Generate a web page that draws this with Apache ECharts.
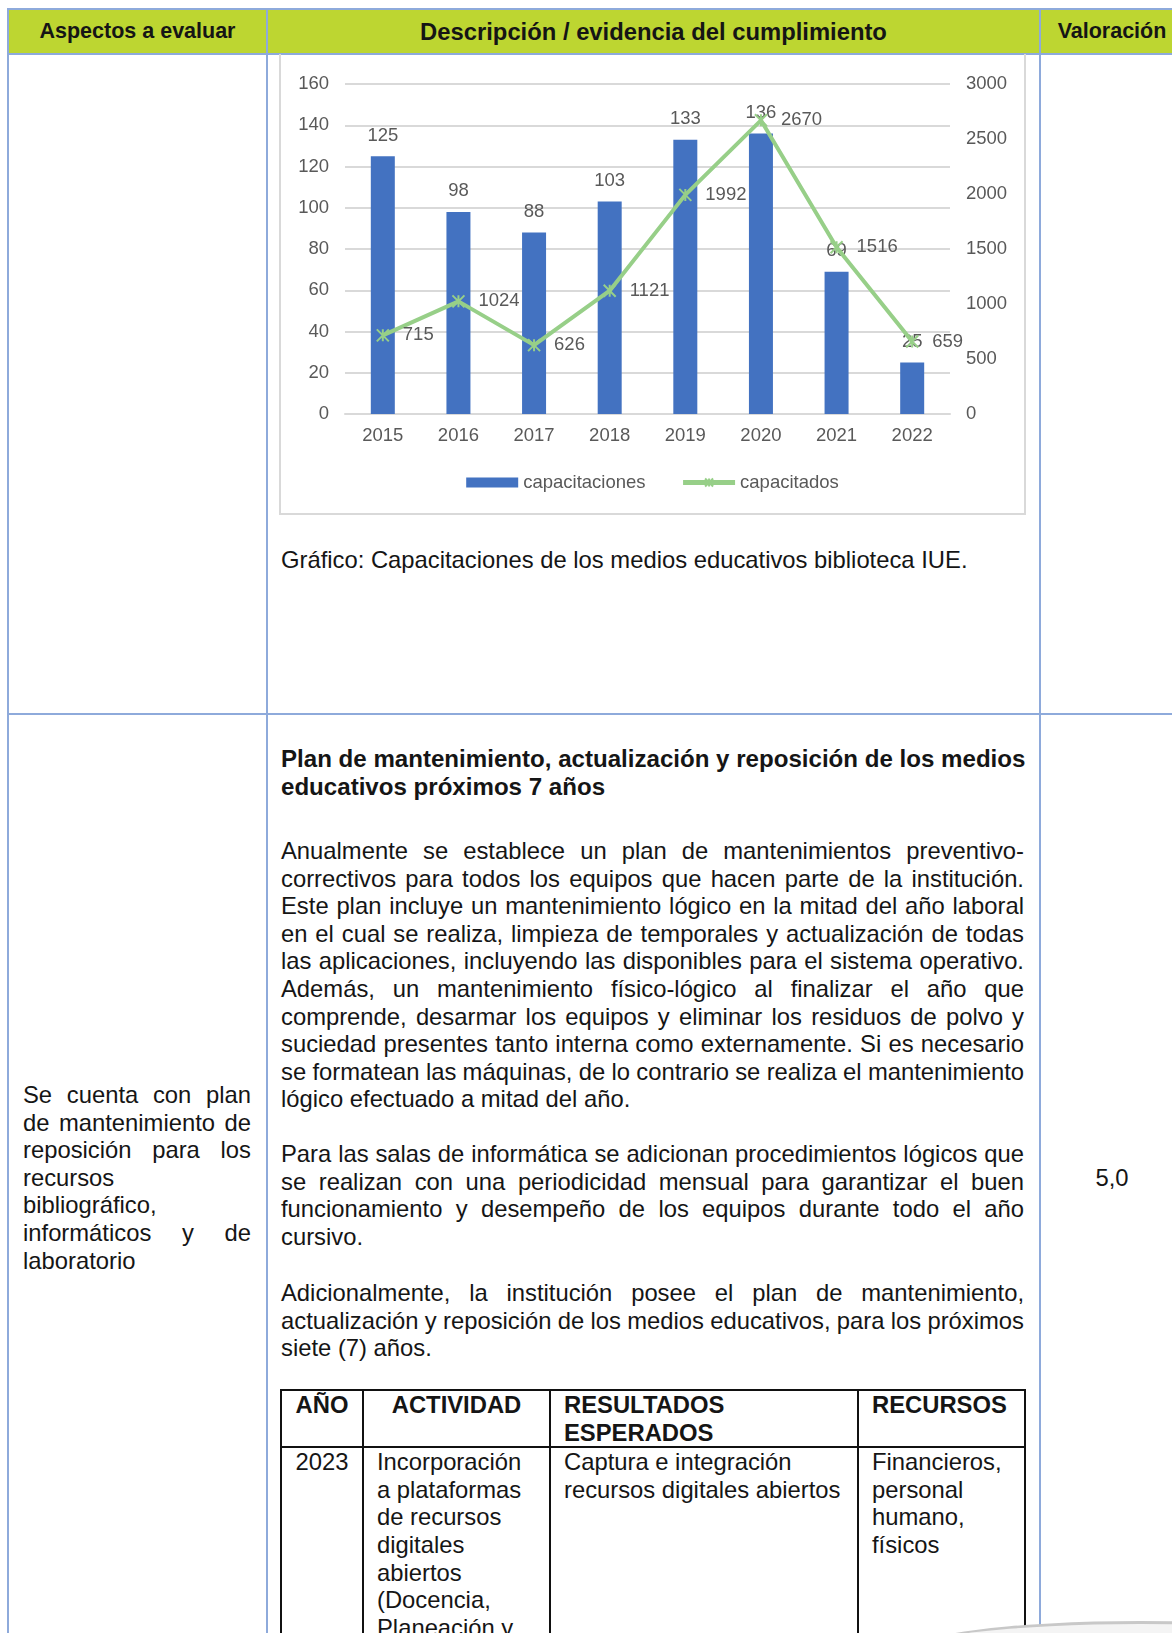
<!DOCTYPE html>
<html>
<head>
<meta charset="utf-8">
<title>Capacitaciones biblioteca IUE</title>
<script src="https://cdn.jsdelivr.net/npm/echarts@6/dist/echarts.min.js"></script>
<style>
  html, body { margin: 0; padding: 0; background: #fff; }
  body { width: 1172px; height: 1633px; overflow: hidden; position: relative;
         font-family: "Liberation Sans", Arial, sans-serif; color: #151515; }
  .abs { position: absolute; }
  .hl { position: absolute; height: 2px; background: #8EAADB; }
  .vl { position: absolute; width: 2px; background: #8EAADB; }
  .txt { font-size: 23.8px; line-height: 27.6px; }
  .j { text-align: justify; text-align-last: justify; white-space: nowrap; word-spacing: -1px; }
  .hd { font-weight: bold; font-size: 21.5px; text-align: center; line-height: 43px; top: 10px; }
  table.plan { position: absolute; left: 280px; top: 1389px; width: 744px; border-collapse: collapse;
               table-layout: fixed; font-size: 23.8px; line-height: 27.6px; }
  table.plan td { border: 2px solid #111; vertical-align: top; padding: 0 4px 0 13px; }
  table.plan tr.h td { font-weight: bold; height: 55px; }
</style>
</head>
<body>
<!-- cabecera -->
<div class="abs" style="left:8px;top:9px;width:1170px;height:45px;background:#BDD631;"></div>
<div class="hl" style="left:8px;top:8px;width:1170px;"></div>
<div class="hl" style="left:8px;top:53px;width:1170px;"></div>
<div class="hl" style="left:8px;top:713px;width:1170px;"></div>
<div class="vl" style="left:7px;top:8px;height:1630px;"></div>
<div class="vl" style="left:266px;top:8px;height:1630px;"></div>
<div class="vl" style="left:1039px;top:8px;height:1630px;"></div>
<div class="abs hd" style="left:9px;width:257px;">Aspectos a evaluar</div>
<div class="abs hd" style="left:268px;width:771px;font-size:23.8px;">Descripción / evidencia del cumplimiento</div>
<div class="abs hd" style="left:1041px;width:142px;">Valoración</div>

<!-- grafico -->
<div id="main" class="abs" style="left:279px;top:54px;width:743px;height:459px;border:2px solid #D9D9D9;border-top:none;"></div>
<div class="abs txt" style="left:281px;top:546px;">Gráfico: Capacitaciones de los medios educativos biblioteca IUE.</div>

<!-- fila 2 -->
<div class="abs txt" style="left:281px;top:745px;width:760px;font-weight:bold;font-size:24.1px;white-space:nowrap;">
  <div>Plan de mantenimiento, actualización y reposición de los medios</div>
  <div>educativos próximos 7 años</div>
</div>
<div class="abs txt" style="left:281px;top:837px;width:743px;">
  <div class="j">Anualmente se establece un plan de mantenimientos preventivo-</div>
  <div class="j">correctivos para todos los equipos que hacen parte de la institución.</div>
  <div class="j">Este plan incluye un mantenimiento lógico en la mitad del año laboral</div>
  <div class="j">en el cual se realiza, limpieza de temporales y actualización de todas</div>
  <div class="j">las aplicaciones, incluyendo las disponibles para el sistema operativo.</div>
  <div class="j">Además, un mantenimiento físico-lógico al finalizar el año que</div>
  <div class="j">comprende, desarmar los equipos y eliminar los residuos de polvo y</div>
  <div class="j">suciedad presentes tanto interna como externamente. Si es necesario</div>
  <div class="j">se formatean las máquinas, de lo contrario se realiza el mantenimiento</div>
  <div>lógico efectuado a mitad del año.</div>
</div>
<div class="abs txt" style="left:281px;top:1140px;width:743px;">
  <div class="j">Para las salas de informática se adicionan procedimientos lógicos que</div>
  <div class="j">se realizan con una periodicidad mensual para garantizar el buen</div>
  <div class="j">funcionamiento y desempeño de los equipos durante todo el año</div>
  <div>cursivo.</div>
</div>
<div class="abs txt" style="left:281px;top:1279px;width:743px;">
  <div class="j">Adicionalmente, la institución posee el plan de mantenimiento,</div>
  <div class="j">actualización y reposición de los medios educativos, para los próximos</div>
  <div>siete (7) años.</div>
</div>
<div class="abs txt" style="left:23px;top:1081px;width:228px;">
  <div class="j">Se cuenta con plan</div>
  <div class="j">de mantenimiento de</div>
  <div class="j">reposición para los</div>
  <div>recursos</div>
  <div>bibliográfico,</div>
  <div class="j">informáticos y de</div>
  <div>laboratorio</div>
</div>
<div class="abs txt" style="left:1041px;top:1164px;width:142px;text-align:center;">5,0</div>

<table class="plan">
  <colgroup><col style="width:82px"><col style="width:187px"><col style="width:308px"><col style="width:167px"></colgroup>
  <tr class="h">
    <td style="text-align:center;padding:0 2px;">AÑO</td>
    <td style="text-align:center;padding:0 2px;">ACTIVIDAD</td>
    <td>RESULTADOS<br>ESPERADOS</td>
    <td>RECURSOS</td>
  </tr>
  <tr>
    <td style="text-align:center;padding:0 2px;height:260px;">2023</td>
    <td>Incorporación<br>a plataformas<br>de recursos<br>digitales<br>abiertos<br>(Docencia,<br>Planeación y</td>
    <td>Captura e integración<br>recursos digitales abiertos</td>
    <td>Financieros,<br>personal<br>humano,<br>físicos</td>
  </tr>
</table>
<div class="abs" style="left:905px;top:1621px;width:470px;height:60px;border-radius:50%;border-top:3px solid #C8C8C8;background:#F4F4F4;"></div>

<script type="text/javascript">
var years = ['2015', '2016', '2017', '2018', '2019', '2020', '2021', '2022'];
var capacitaciones = [125, 98, 88, 103, 133, 136, 69, 25];
var capacitados = [715, 1024, 626, 1121, 1992, 2670, 1516, 659];

var gray = '#595959';
var green = '#97CF88';
var starMarker = 'path://M0,0L10,10M10,0L0,10M5,0L5,10';

var myChart = echarts.init(document.getElementById('main'));
var option = {
    animation: false,
    textStyle: { fontFamily: 'Liberation Sans, Arial, sans-serif' },
    grid: { left: 64, right: 74, top: 30, bottom: 99 },
    legend: {
        top: 414,
        left: 'center',
        itemGap: 35,
        itemWidth: 52,
        itemHeight: 10,
        textStyle: { color: gray, fontSize: 18.5 },
        data: [
            { name: 'capacitaciones', icon: 'rect' },
            { name: 'capacitados', lineStyle: { width: 5 } }
        ]
    },
    xAxis: {
        type: 'category',
        data: years,
        axisLine: { lineStyle: { color: '#D9D9D9', width: 2 } },
        axisTick: { show: false },
        axisLabel: { color: gray, fontSize: 18.5, margin: 12 }
    },
    yAxis: [{
        type: 'value',
        min: 0, max: 160, interval: 20,
        axisLabel: { color: gray, fontSize: 18.5, margin: 16 },
        splitLine: { lineStyle: { color: '#D9D9D9', width: 2 } }
    }, {
        type: 'value',
        min: 0, max: 3000, interval: 500,
        axisLabel: {
            color: gray, fontSize: 18.5, margin: 16,
            formatter: function (v) { return String(v); }
        },
        splitLine: { show: false }
    }],
    series: [{
        name: 'capacitaciones',
        type: 'bar',
        data: capacitaciones,
        barWidth: 24,
        itemStyle: { color: '#4372C1' },
        label: { show: true, position: 'top', distance: 11, color: gray, fontSize: 18.5 }
    }, {
        name: 'capacitados',
        type: 'line',
        yAxisIndex: 1,
        data: capacitados,
        symbol: starMarker,
        symbolSize: 12,
        lineStyle: { color: green, width: 4 },
        itemStyle: { color: 'rgba(0,0,0,0)', borderColor: green, borderWidth: 2 },
        label: { show: true, position: 'right', distance: 13, color: gray, fontSize: 18.5 }
    }]
};
myChart.setOption(option);
</script>
</body>
</html>
